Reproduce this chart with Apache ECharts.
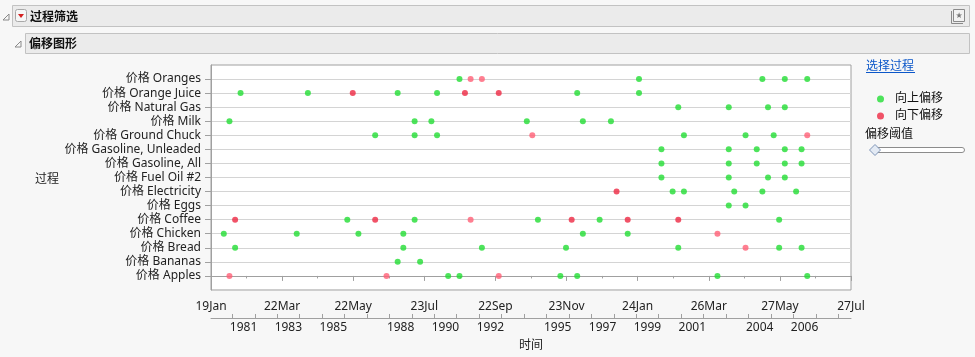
<!DOCTYPE html>
<html><head><meta charset="utf-8">
<script src="https://cdn.jsdelivr.net/npm/echarts@6/dist/echarts.min.js"></script>
<style>html,body{margin:0;padding:0;background:#f7f7f7;}#chart{width:975px;height:357px;}</style>
</head><body><div id="chart"></div>
<script>
// ---- data ----
const seriesNames = ['Apples','Bananas','Bread','Chicken','Coffee','Eggs','Electricity','Fuel Oil #2','Gasoline, All','Gasoline, Unleaded','Ground Chuck','Milk','Natural Gas','Orange Juice','Oranges'];
const categories = seriesNames.map(n => '价格 ' + n);

const upShifts = [
  ['Oranges','1991-02'],['Oranges','1999-02'],['Oranges','2004-08'],['Oranges','2005-08'],['Oranges','2006-08'],
  ['Orange Juice','1981-05'],['Orange Juice','1984-05'],['Orange Juice','1988-05'],['Orange Juice','1990-02'],['Orange Juice','1996-05'],['Orange Juice','1999-02'],
  ['Natural Gas','2000-11'],['Natural Gas','2003-02'],['Natural Gas','2004-11'],['Natural Gas','2005-08'],
  ['Milk','1980-11'],['Milk','1989-02'],['Milk','1989-11'],['Milk','1994-02'],['Milk','1996-08'],['Milk','1997-11'],
  ['Ground Chuck','1987-05'],['Ground Chuck','1989-02'],['Ground Chuck','1990-02'],['Ground Chuck','2001-02'],['Ground Chuck','2003-11'],['Ground Chuck','2005-02'],
  ['Gasoline, Unleaded','2000-02'],['Gasoline, Unleaded','2003-02'],['Gasoline, Unleaded','2004-05'],['Gasoline, Unleaded','2005-08'],['Gasoline, Unleaded','2006-05'],
  ['Gasoline, All','2000-02'],['Gasoline, All','2003-02'],['Gasoline, All','2004-05'],['Gasoline, All','2005-08'],['Gasoline, All','2006-05'],
  ['Fuel Oil #2','2000-02'],['Fuel Oil #2','2003-02'],['Fuel Oil #2','2004-11'],['Fuel Oil #2','2005-08'],
  ['Electricity','2000-08'],['Electricity','2001-02'],['Electricity','2003-05'],['Electricity','2004-08'],['Electricity','2006-02'],
  ['Eggs','2003-02'],['Eggs','2003-11'],
  ['Coffee','1986-02'],['Coffee','1989-02'],['Coffee','1994-08'],['Coffee','1997-05'],['Coffee','2005-05'],
  ['Chicken','1980-08'],['Chicken','1983-11'],['Chicken','1986-08'],['Chicken','1988-08'],['Chicken','1996-08'],['Chicken','1998-08'],
  ['Bread','1981-02'],['Bread','1988-08'],['Bread','1992-02'],['Bread','1995-11'],['Bread','2000-11'],['Bread','2005-05'],['Bread','2006-05'],
  ['Bananas','1988-05'],['Bananas','1989-05'],
  ['Apples','1990-08'],['Apples','1991-02'],['Apples','1995-08'],['Apples','1996-05'],['Apples','2002-08'],['Apples','2006-08']
];
const downShiftsStrong = [
  ['Orange Juice','1986-05'],['Orange Juice','1991-05'],['Orange Juice','1992-11'],
  ['Coffee','1981-02'],['Coffee','1987-05'],['Coffee','1996-02'],['Coffee','1998-08'],['Coffee','2000-11'],
  ['Electricity','1998-02']
];
const downShiftsWeak = [
  ['Oranges','1991-08'],['Oranges','1992-02'],
  ['Coffee','1991-08'],
  ['Apples','1980-11'],['Apples','1987-11'],['Apples','1992-11'],
  ['Ground Chuck','1994-05'],['Ground Chuck','2006-08'],
  ['Chicken','2002-08'],
  ['Bread','2003-11']
];
const yearLabels = [1981,1983,1985,1988,1990,1992,1995,1997,1999,2001,2004,2006];
const yearTicks = [1981,1982,1983,1984,1985,1986,1987,1988,1989,1990,1991,1992,1993,1994,1995,1996,1997,1998,1999,2000,2001,2002,2003,2004,2005,2006,2007,2008];

// ---- helpers ----
const EPOCH = Date.UTC(1904,0,1); // JMP date origin, seconds
const MONTHS = ['Jan','Feb','Mar','Apr','May','Jun','Jul','Aug','Sep','Oct','Nov','Dec'];
function toSec(ym){ const [y,m] = ym.split('-').map(Number); return (Date.UTC(y, m-1, 15) - EPOCH)/1000; }
function yearSec(y, m, d){ return (Date.UTC(y, m, d) - EPOCH)/1000; }
function fmtTick(v){ const d = new Date(EPOCH + v*1000); return d.getUTCDate() + MONTHS[d.getUTCMonth()]; }
function pts(list){ return list.map(([n, ym]) => [toSec(ym), seriesNames.indexOf(n)]); }

const FONT = "'Noto Sans', 'Noto Sans CJK SC', sans-serif";
const GREEN = '#22dd33', RED = '#ee2842', PINK = '#ff5f75';
const AX = '#a0a0a0';

const chart = echarts.init(document.getElementById('chart'), null, {renderer:'canvas'});
chart.setOption({
  backgroundColor: '#f7f7f7',
  animation: false,
  textStyle: {fontFamily: FONT},
  grid: {left: 211, top: 65, width: 640, height: 226.5, show: true, backgroundColor: '#ffffff', borderColor: AX, borderWidth: 1},
  legend: {
    orient: 'vertical', left: 872, top: 88, itemWidth: 7, itemHeight: 7, itemGap: 5, icon: 'circle',
    textStyle: {fontFamily: FONT, fontSize: 12, color: '#111', padding: [0,0,0,6]},
    data: ['向上偏移', '向下偏移'], selectedMode: false
  },
  xAxis: [{
    type: 'value', min: 2.4e9, max: 3.3e9, interval: 1e8,
    axisLine: {show: true, lineStyle: {color: AX}},
    axisTick: {show: true, length: 5, lineStyle: {color: AX}},
    minorTick: {show: true, splitNumber: 2, length: 2.5, lineStyle: {color: AX}},
    splitLine: {show: false},
    axisLabel: {formatter: fmtTick, margin: 11, fontSize: 12, color: '#222', fontFamily: FONT},
    name: '时间', nameLocation: 'middle', nameGap: 50, nameTextStyle: {fontSize: 12, color: '#222', fontFamily: FONT}
  }, {
    type: 'value', min: 2.4e9, max: 3.3e9, position: 'bottom', offset: 28,
    axisLine: {show: true, lineStyle: {color: AX}},
    axisTick: {show: true, inside: true, length: 4, lineStyle: {color: AX},
      customValues: yearTicks.map(y => yearSec(y,0,1))},
    splitLine: {show: false},
    axisLabel: {customValues: yearLabels.map(y => yearSec(y,6,2)),
      formatter: v => String(new Date(EPOCH + v*1000).getUTCFullYear()),
      margin: 4, fontSize: 12, color: '#222', fontFamily: FONT}
  }],
  yAxis: {
    type: 'value', min: -1, max: 15, interval: 1,
    axisLine: {show: true, lineStyle: {color: AX}},
    axisTick: {show: true, length: 6, lineStyle: {color: AX}, customValues: seriesNames.map((_, i) => i)},
    splitLine: {show: true, lineStyle: {color: '#d4d4d4', width: 1}},
    axisLabel: {customValues: seriesNames.map((_, i) => i), formatter: v => categories[v] || '', margin: 10, fontSize: 12, color: '#222', fontFamily: FONT}
  },
  series: [
    {name: '向上偏移', type: 'scatter', data: pts(upShifts), symbolSize: 6, itemStyle: {color: GREEN}, z: 3},
    {name: '向下偏移', type: 'scatter', data: pts(downShiftsStrong), symbolSize: 6, itemStyle: {color: RED}, z: 3},
    {name: '向下偏移', type: 'scatter', data: pts(downShiftsWeak), symbolSize: 6, itemStyle: {color: PINK}, z: 3}
  ],
  graphic: [
    // header bar 1
    {type: 'rect', shape: {x: 12.5, y: 5.5, width: 957, height: 21}, style: {fill: '#ebebeb', stroke: '#c2c2c2', lineWidth: 1}},
    {type: 'polygon', shape: {points: [[3,20],[9,20],[9,14]]}, style: {fill: 'none', stroke: '#8a8a8a', lineWidth: 1}},
    {type: 'rect', shape: {x: 15.5, y: 9.5, width: 11, height: 12, r: 2}, style: {fill: '#f6f6f6', stroke: '#a8a8a8', lineWidth: 1}},
    {type: 'polygon', shape: {points: [[18,14],[24,14],[21,18]]}, style: {fill: '#d42020'}},
    {type: 'text', x: 30, y: 16, style: {text: '过程筛选', font: "bold 12px 'Noto Sans CJK SC', sans-serif", fill: '#111', textVerticalAlign: 'middle'}},
    {type: 'rect', shape: {x: 953.5, y: 9.5, width: 11, height: 12}, style: {fill: '#f2f2f2', stroke: '#8a8a8a', lineWidth: 1}},
    {type: 'polyline', shape: {points: [[951.5,11],[951.5,23.5],[963,23.5]]}, style: {stroke: '#8a8a8a', lineWidth: 1, fill: 'none'}},
    {type: 'text', x: 959, y: 15.5, style: {text: '★', font: "8px 'DejaVu Sans', sans-serif", fill: '#777', textAlign: 'center', textVerticalAlign: 'middle'}},
    // header bar 2
    {type: 'rect', shape: {x: 25.5, y: 33.5, width: 944, height: 20}, style: {fill: '#ebebeb', stroke: '#c2c2c2', lineWidth: 1}},
    {type: 'polygon', shape: {points: [[15,47],[21,47],[21,41]]}, style: {fill: 'none', stroke: '#8a8a8a', lineWidth: 1}},
    {type: 'text', x: 29, y: 43.5, style: {text: '偏移图形', font: "bold 12px 'Noto Sans CJK SC', sans-serif", fill: '#111', textVerticalAlign: 'middle'}},
    // y axis title
    {type: 'text', x: 47, y: 178, style: {text: '过程', font: "12px 'Noto Sans CJK SC', sans-serif", fill: '#222', textAlign: 'center', textVerticalAlign: 'middle'}},
    // right panel
    {type: 'text', x: 866, y: 65, style: {text: '选择过程', font: "12px 'Noto Sans CJK SC', sans-serif", fill: '#0b57c9', textVerticalAlign: 'middle'}},
    {type: 'line', shape: {x1: 866, y1: 72.5, x2: 915, y2: 72.5}, style: {stroke: '#0b57c9', lineWidth: 1}},
    {type: 'text', x: 865, y: 133, style: {text: '偏移阈值', font: "12px 'Noto Sans CJK SC', sans-serif", fill: '#111', textVerticalAlign: 'middle'}},
    {type: 'rect', shape: {x: 872.5, y: 147.5, width: 92, height: 5, r: 2.5}, style: {fill: '#ffffff', stroke: '#8c8c8c', lineWidth: 1}},
    {type: 'polygon', shape: {points: [[875,144.5],[880.5,150],[875,155.5],[869.5,150]]}, style: {fill: '#e3eaf4', stroke: '#7f95b8', lineWidth: 1}}
  ]
});
</script></body></html>
